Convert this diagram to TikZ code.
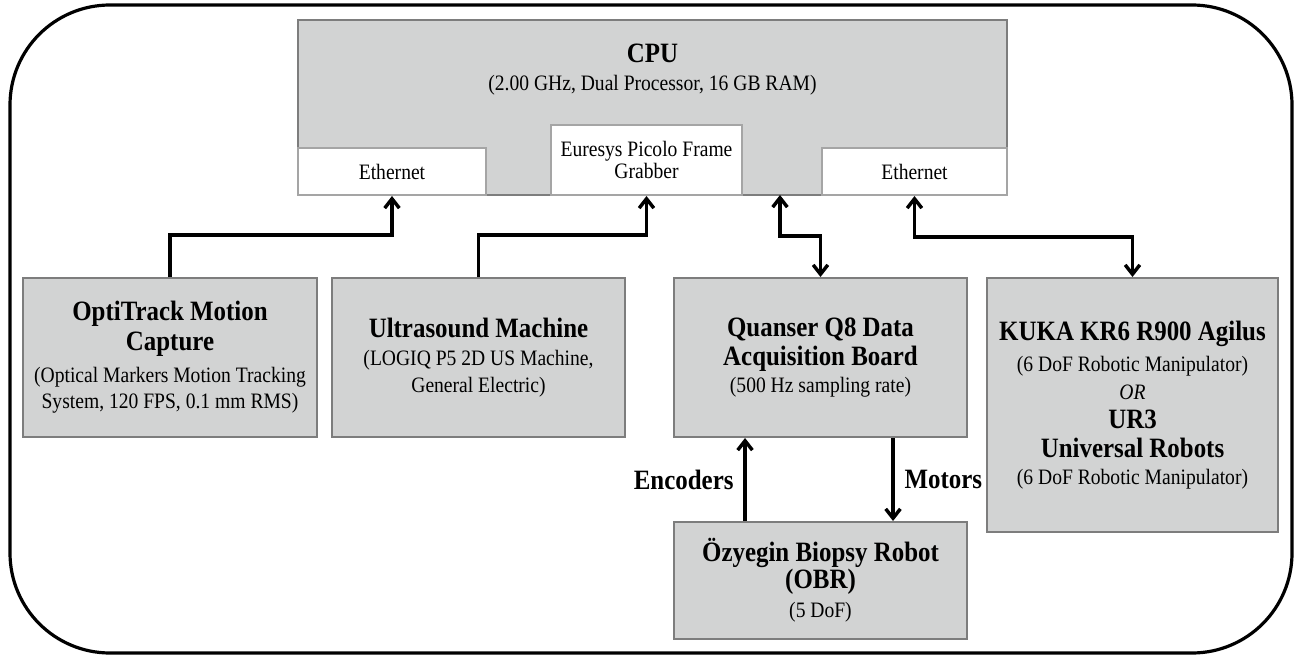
\documentclass[tikz,border=0pt]{standalone}
\usepackage{fontspec}
\setmainfont[FakeStretch=0.89]{Liberation Serif}
\usepackage{xcolor}
\usepackage{tikz}
\usetikzlibrary{positioning,arrows.meta}

\definecolor{boxgray}{RGB}{210,211,211}
\definecolor{edgegray}{RGB}{125,125,125}
\definecolor{portgray}{RGB}{165,165,165}
\newcommand{\ttl}{\fontsize{21}{24}\selectfont\bfseries}

\begin{document}
\begin{tikzpicture}[
  x=0.75pt, y=-0.75pt,
  font=\fontsize{16.5}{20}\selectfont,
  frame/.style={line width=2.4pt, draw=black, rounded corners=75pt},
  line/.style={-{Straight Barb[length=7pt,width=11pt]}, line width=2.6pt, draw=black},
  dline/.style={line, {Straight Barb[length=7pt,width=11pt]}-{Straight Barb[length=7pt,width=11pt]}},
  box/.style={draw=edgegray, fill=boxgray, line width=1.5pt, minimum width=220pt, minimum height=119.25pt, align=center, inner sep=0pt},
  cpubox/.style={draw=edgegray, fill=boxgray, line width=1.5pt, minimum width=531.75pt, minimum height=131.25pt, inner sep=0pt},
  port/.style={draw=portgray, fill=white, line width=1.5pt, minimum width=138.75pt, minimum height=35.25pt, align=center, inner sep=0pt},
  lbl/.style={font=\ttl}
]
\useasboundingbox (0,0) rectangle (1296,656);
\draw[frame] (10,5) rectangle (1292,653);

% CPU with its ports
\node[cpubox] (cpu) at (652.5,107.5) {};
\node[align=center] (cputxt) at (652.5,70) {{\ttl CPU}\\[1pt](2.00 GHz, Dual Processor, 16 GB RAM)};
\node[port, minimum width=141pt] (eth1) at (392,171.5) {Ethernet};
\node[port, minimum width=143.25pt, minimum height=52.5pt, font=\fontsize{16.5}{17}\selectfont] (grab) at (646.5,160) {Euresys Picolo Frame\\Grabber};
\node[port] (eth2) at (914.5,171.5) {Ethernet};
\coordinate (cpuport) at (780,195);

% Devices
\node[box] (opti) at (170,357.5) {{\ttl OptiTrack Motion}\\[2pt]{\ttl Capture}\\[4pt](Optical Markers Motion Tracking\\System, 120 FPS, 0.1 mm RMS)};
\node[box] (us) at (478.5,357.5) {{\ttl Ultrasound Machine}\\[1pt](LOGIQ P5 2D US Machine,\\General Electric)};
\node[box] (daq) at (820.5,357.5) {{\ttl Quanser Q8 Data}\\[2pt]{\ttl Acquisition Board}\\(500 Hz sampling rate)};
\node[box, minimum width=218.25pt, minimum height=190.5pt] (kuka) at (1132.5,405) {{\ttl KUKA KR6 R900 Agilus}\\[3pt](6 DoF Robotic Manipulator)\\[1pt]\textit{OR}\\[2pt]{\ttl UR3}\\[2pt]{\ttl Universal Robots}\\(6 DoF Robotic Manipulator)};
\node[box, minimum height=87.75pt] (obr) at (820.5,580.5) {{\ttl Özyegin Biopsy Robot}\\{\ttl (OBR)}\\[2pt](5 DoF)};

% Connections
\draw[line] (opti.north) -- ++(0,-42) -| (eth1.south);
\draw[line] (us.north) -- ++(0,-42) -| (grab.south);
\draw[dline] (cpuport) -- ++(0,41) -| (daq.north);
\draw[dline] (eth2.south) -- ++(0,41) -| (kuka.north);
\draw[line] ([xshift=-56.6pt]obr.north) -- node[left=4pt, lbl] {Encoders} ([xshift=-56.6pt]daq.south);
\draw[line] ([xshift=54.4pt]daq.south) -- node[right=4pt, lbl] {Motors} ([xshift=54.4pt]obr.north);
\end{tikzpicture}
\end{document}
